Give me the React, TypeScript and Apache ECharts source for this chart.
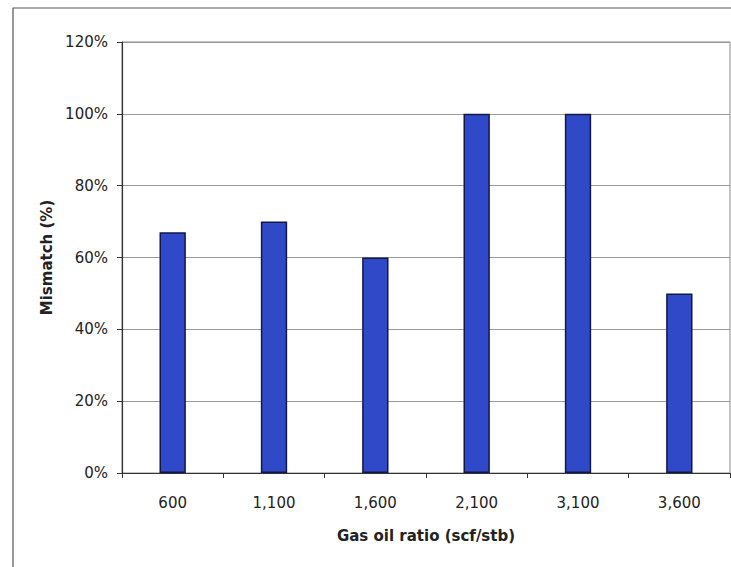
import React, { useEffect, useRef } from "react";
import * as echarts from "echarts";

const categories = ["600", "1,100", "1,600", "2,100", "3,100", "3,600"];
const mismatch = [67, 70, 60, 100, 100, 50];
const yTicks = [0, 20, 40, 60, 80, 100, 120];

const FONT = "DejaVu Sans";

export default function App() {
  const ref = useRef<HTMLDivElement>(null);
  useEffect(() => {
    if (!ref.current) return;
    const chart = echarts.init(ref.current, null, { renderer: "svg" });
    chart.setOption({
      animation: false,
      backgroundColor: "#ffffff",
      graphic: [
        {
          type: "rect",
          shape: { x: 13, y: 8, width: 760, height: 620 },
          style: { fill: "none", stroke: "#555", lineWidth: 1.2 },
          silent: true,
        },
      ],
      grid: { left: 122, right: 1, top: 42, bottom: 94, containLabel: false, show: true, borderColor: "#888", borderWidth: 1 },
      xAxis: {
        type: "category",
        data: categories,
        name: "Gas oil ratio (scf/stb)",
        nameLocation: "middle",
        nameGap: 55,
        nameTextStyle: { fontFamily: FONT, fontSize: 15, fontWeight: "bold", color: "#222" },
        axisLine: { lineStyle: { color: "#333", width: 1.2 } },
        axisTick: { show: true, alignWithLabel: false, length: 5, lineStyle: { color: "#333" } },
        axisLabel: { fontFamily: FONT, fontSize: 15, color: "#222", margin: 22 },
      },
      yAxis: {
        type: "value",
        min: 0,
        max: 120,
        interval: 20,
        name: "Mismatch (%)",
        nameLocation: "middle",
        nameGap: 68,
        nameRotate: 90,
        nameTextStyle: { fontFamily: FONT, fontSize: 15, fontWeight: "bold", color: "#222" },
        axisLine: { show: true, lineStyle: { color: "#333", width: 1.2 } },
        axisTick: { show: true, length: 5, lineStyle: { color: "#333" } },
        axisLabel: {
          fontFamily: FONT,
          fontSize: 15,
          color: "#222",
          margin: 14,
          formatter: (v: number) => (yTicks.includes(v) ? v + "%" : ""),
        },
        splitLine: { show: true, lineStyle: { color: "#999", width: 1 } },
      },
      series: [
        {
          type: "bar",
          data: mismatch,
          barWidth: "26%",
          itemStyle: { color: "#3049c8", borderColor: "#12184a", borderWidth: 1.5 },
        },
      ],
    });
    return () => chart.dispose();
  }, []);
  return (
    <div
      ref={ref}
      style={{ position: "fixed", left: 0, top: 0, width: 731, height: 567 }}
    />
  );
}
